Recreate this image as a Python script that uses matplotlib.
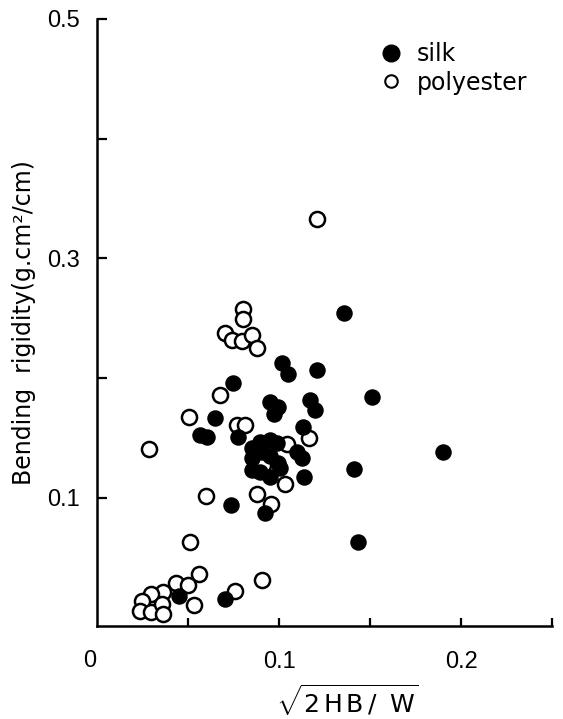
import matplotlib
matplotlib.use("Agg")
import matplotlib.pyplot as plt
from matplotlib.lines import Line2D

plt.rcParams['font.family'] = ['Liberation Sans', 'DejaVu Sans']
plt.rcParams['mathtext.fontset'] = 'custom'
plt.rcParams['mathtext.rm'] = 'DejaVu Sans'

# polyester (open circles)
poly_x = [0.1207, 0.0802, 0.0802, 0.0701, 0.0740, 0.0797, 0.0850, 0.0881,
          0.0677, 0.0507, 0.0769, 0.0813, 0.0286, 0.1165, 0.1046, 0.0914,
          0.1033, 0.0599, 0.0877, 0.0954, 0.0511, 0.0560, 0.0434, 0.0502,
          0.0361, 0.0298, 0.0246, 0.0236, 0.0294, 0.0355, 0.0360, 0.0533,
          0.0758, 0.0908]
poly_y = [0.3331, 0.2581, 0.2498, 0.2375, 0.2317, 0.2308, 0.2358, 0.2256,
          0.1856, 0.1673, 0.1608, 0.1611, 0.1411, 0.1500, 0.1454, 0.1275,
          0.1117, 0.1013, 0.1029, 0.0950, 0.0633, 0.0367, 0.0289, 0.0271,
          0.0217, 0.0200, 0.0142, 0.0058, 0.0050, 0.0117, 0.0033, 0.0104,
          0.0219, 0.0311]

# silk (filled circles)
silk_x = [0.1359, 0.1015, 0.1047, 0.1210, 0.1509, 0.0745, 0.0952, 0.0997,
          0.0971, 0.1173, 0.1198, 0.0648, 0.0566, 0.0604, 0.0776, 0.1130,
          0.1097, 0.1125, 0.1140, 0.1903, 0.1414, 0.1434, 0.0735, 0.0923,
          0.0451, 0.0703, 0.0850, 0.0896, 0.0951, 0.0989, 0.0850, 0.0905,
          0.0951, 0.0995, 0.0850, 0.0896, 0.0951, 0.1005]
silk_y = [0.2548, 0.2129, 0.2039, 0.2067, 0.1844, 0.1963, 0.1800, 0.1761,
          0.1700, 0.1814, 0.1738, 0.1664, 0.1525, 0.1508, 0.1511, 0.1588,
          0.1386, 0.1331, 0.1178, 0.1386, 0.1239, 0.0633, 0.0942, 0.0878,
          0.0178, 0.0156, 0.1414, 0.1469, 0.1483, 0.1456, 0.1331, 0.1386,
          0.1350, 0.1289, 0.1233, 0.1219, 0.1178, 0.1250]

ytick_vals = [0.1, 0.2, 0.3, 0.4, 0.5]
ytick_labels = ['0.1', '', '0.3', '', '0.5']
xtick_vals = [0.05, 0.1, 0.15, 0.2, 0.25]
xtick_labels = ['', '0.1', '', '0.2', '']

W, H = 563, 719
fig = plt.figure(figsize=(W / 100, H / 100), dpi=100)
ax = fig.add_axes([97 / W, (H - 626) / H, (552 - 97) / W, (626 - 19) / H])

ms = 118
ax.scatter(silk_x, silk_y, s=ms, c='black', edgecolors='black', linewidths=1.0, zorder=3)
ax.scatter(poly_x, poly_y, s=ms, facecolors='white', edgecolors='black', linewidths=1.8, zorder=2)

ax.set_xlim(0, 0.25)
ax.set_ylim(-0.007, 0.5)
for s in ['top', 'right']:
    ax.spines[s].set_visible(False)
for s in ['left', 'bottom']:
    ax.spines[s].set_linewidth(1.8)

ax.set_yticks(ytick_vals)
ax.set_yticklabels(ytick_labels)
ax.set_xticks(xtick_vals)
ax.set_xticklabels(xtick_labels)
ax.tick_params(axis='y', direction='in', length=7, width=1.6, pad=12, labelsize=17)
ax.tick_params(axis='x', direction='in', length=6, width=1.6, pad=18, labelsize=17)
# origin label, set slightly left of the corner as in the original
ax.annotate('0', xy=(0, 0), xycoords='axes fraction', xytext=(-5, -17),
            textcoords='offset points', ha='center', va='top', fontsize=17)

ax.set_ylabel('Bending  rigidity(g.cm²/cm)', fontsize=17, labelpad=8,
              family=['DejaVu Sans'])
fig.text(347 / W, 1 - 700 / H, r'$\sqrt{\mathrm{2\,H\,B\,/\;\;W}}$', fontsize=18,
         ha='center', va='center')

handles = [
    Line2D([], [], marker='o', ls='', color='black', ms=12, label='silk'),
    Line2D([], [], marker='o', ls='', mfc='white', mec='black', mew=1.5, ms=9, label='polyester'),
]
ax.legend(handles=handles, loc='upper left', bbox_to_anchor=(367 / W, 1 - 30 / H),
          bbox_transform=fig.transFigure, frameon=False,
          prop={'family': 'DejaVu Sans', 'size': 17},
          handletextpad=0.6, labelspacing=0.2, handlelength=1.0, borderpad=0)

fig.savefig('out.png', dpi=100)
